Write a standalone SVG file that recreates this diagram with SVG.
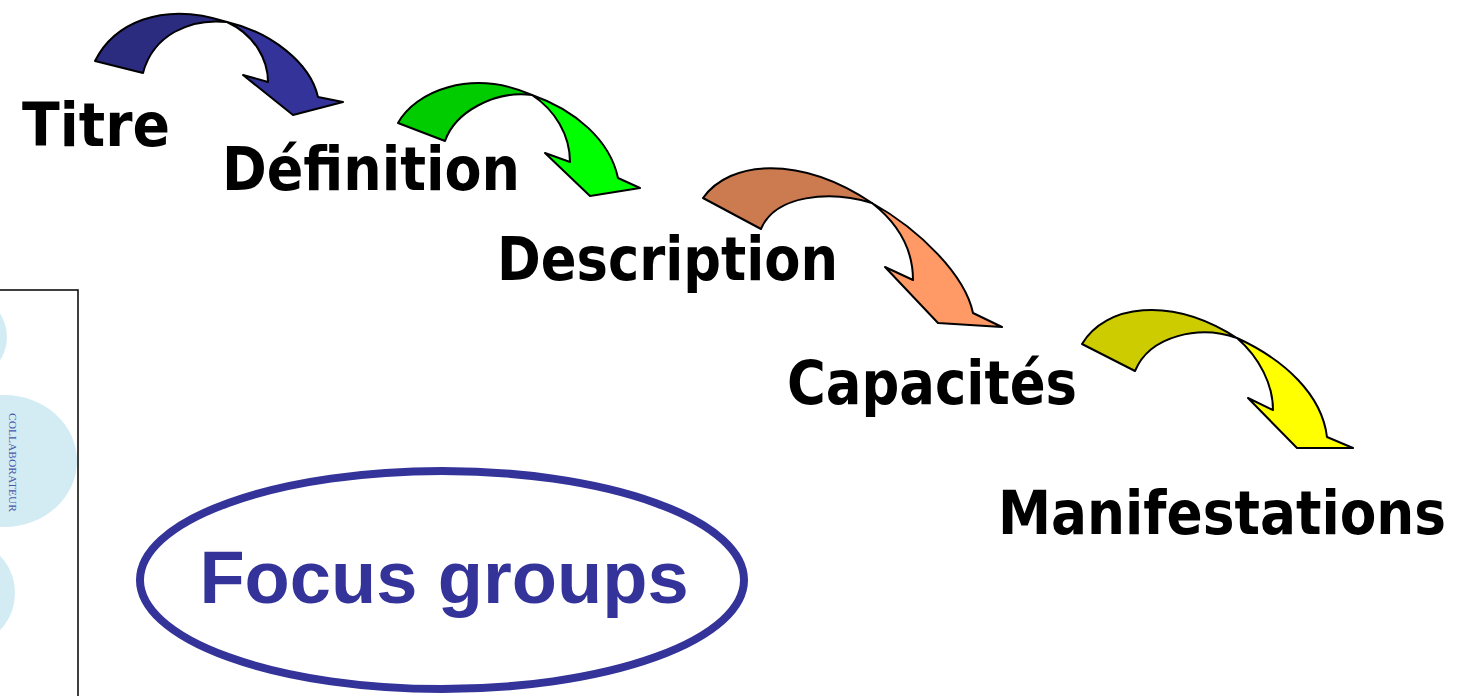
<svg xmlns="http://www.w3.org/2000/svg" width="1468" height="696" viewBox="0 0 1468 696">
  <style>
    .step { font-family: "Comic Sans MS", "DejaVu Sans", sans-serif; font-weight: bold; fill: #000; }
    .band { stroke: #000; stroke-width: 2; stroke-linejoin: round; }
    .blob { fill: #d3ecf4; }
  </style>
  <rect width="1468" height="696" fill="#fff"/>

  <!-- side panel with pale blue petals -->
  <g id="side-panel">
    <ellipse class="blob" cx="-30" cy="337" rx="37" ry="40"/>
    <ellipse class="blob" cx="4" cy="461" rx="73" ry="66"/>
    <ellipse class="blob" cx="-22" cy="593" rx="37" ry="46"/>
    <path d="M0,290 H78 V696" fill="none" stroke="#000" stroke-width="1.5"/>
    <text x="0" y="0" transform="translate(9,413) rotate(90)" font-family="Liberation Serif, serif" font-size="10" fill="#4a5aa8" textLength="99" lengthAdjust="spacingAndGlyphs">COLLABORATEUR</text>
  </g>

  <!-- step labels -->
  <g id="titre"><text class="step" x="22" y="146" font-size="60" textLength="148" lengthAdjust="spacingAndGlyphs">Titre</text></g>
  <g id="definition"><text class="step" x="222" y="190" font-size="60" textLength="298" lengthAdjust="spacingAndGlyphs">Définition</text></g>
  <g id="description"><text class="step" x="497" y="280" font-size="60" textLength="341" lengthAdjust="spacingAndGlyphs">Description</text></g>
  <g id="capacites"><text class="step" x="787" y="404" font-size="60" textLength="290" lengthAdjust="spacingAndGlyphs">Capacités</text></g>
  <g id="manifestations"><text class="step" x="0" y="0" transform="translate(998,534) scale(1,1.13)" font-size="53" textLength="448" lengthAdjust="spacingAndGlyphs">Manifestations</text></g>

  <!-- Focus groups oval -->
  <g id="focus-groups">
    <ellipse cx="442" cy="580" rx="302" ry="109" fill="none" stroke="#333399" stroke-width="8"/>
    <text x="444" y="603" text-anchor="middle" font-family="Liberation Sans, Arial, sans-serif" font-weight="bold" font-size="74" fill="#333399">Focus groups</text>
  </g>

  <!-- curved arrows between steps -->
  <g id="connectors">
    <g id="arrow-titre-definition">
      <path class="band" fill="#2b2b80" d="M95,61 C113,25 160,0 227,22 C190,18 153,35 143,73 Z"/>
      <path class="band" fill="#333399" d="M227,22 C270,32 310,62 318,97 L343,102 L293,115 L243,75 L268,82 C268,60 255,35 227,22 Z"/>
    </g>
    <g id="arrow-definition-description">
      <path class="band" fill="#00cc00" d="M398,123 C415,92 470,68 532,95 C495,90 455,112 445,141 Z"/>
      <path class="band" fill="#00ff00" d="M532,95 C575,110 610,140 618,178 L640,188 L590,196 L545,153 L570,162 C570,135 555,110 532,95 Z"/>
    </g>
    <g id="arrow-description-capacites">
      <path class="band" fill="#cc7a50" d="M703,198 C730,160 800,155 872,203 C830,190 775,195 761,229 Z"/>
      <path class="band" fill="#ff9966" d="M872,203 C920,230 965,275 973,313 L1002,327 L938,323 L885,267 L913,280 C913,250 900,225 872,203 Z"/>
    </g>
    <g id="arrow-capacites-manifestations">
      <path class="band" fill="#cccc00" d="M1082,344 C1105,305 1170,295 1237,338 C1200,325 1150,335 1135,371 Z"/>
      <path class="band" fill="#ffff00" d="M1237,338 C1285,360 1322,395 1327,437 L1353,448 L1297,448 L1248,398 L1273,410 C1273,385 1260,358 1237,338 Z"/>
    </g>
  </g>
</svg>
